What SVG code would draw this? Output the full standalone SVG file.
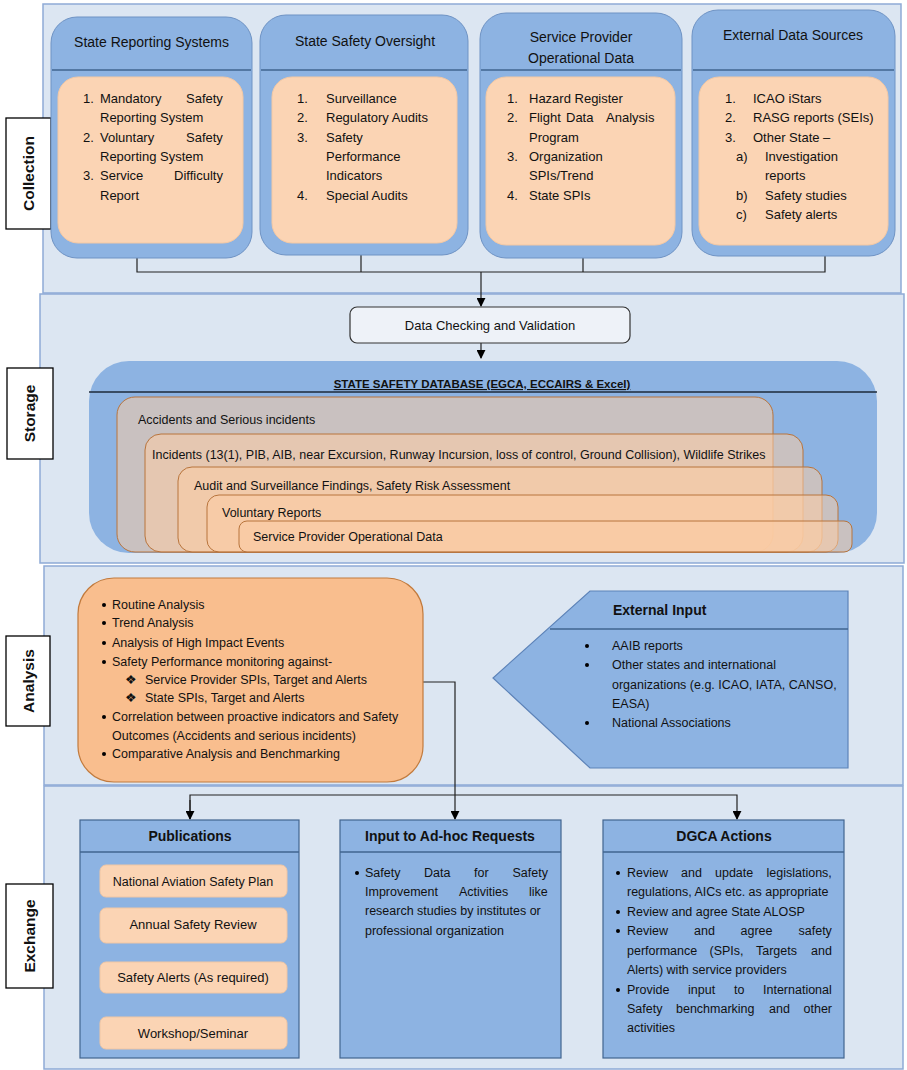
<svg xmlns="http://www.w3.org/2000/svg" width="907" height="1070" viewBox="0 0 907 1070">
<defs>
<marker id="ah" viewBox="0 0 10 10" refX="9" refY="5" markerWidth="9" markerHeight="9" markerUnits="userSpaceOnUse" orient="auto"><path d="M0,0 L10,5 L0,10 z" fill="#000"/></marker>
<style>
text{font-family:"Liberation Sans",Arial,sans-serif;fill:#111;}
.panel{fill:#dce6f2;stroke:#8eaad6;stroke-width:1.5;}
.lab{fill:#fff;stroke:#000;stroke-width:1.3;}
.labt{font-size:15.5px;font-weight:bold;text-anchor:middle;}
.bx{fill:#8db3e2;stroke:#6f93c4;stroke-width:1;}
.in{fill:#fbd4b4;stroke:#f3c8a4;stroke-width:1;}
.div{stroke:#41648f;stroke-width:1.3;fill:none;}
.tt{font-size:14px;text-anchor:middle;}
.tb{font-size:14px;font-weight:bold;text-anchor:middle;}
.t{font-size:13px;}
.s{font-size:12.5px;}
.c{fill:none;stroke:#222;stroke-width:1.2;}
.ly{fill:#fbcca4;fill-opacity:0.55;stroke:#b8743c;stroke-width:1;}
.pub{fill:#fbd4b4;stroke:#f0c6a4;stroke-width:1;}
.ctr{text-anchor:middle;}
</style>
</defs>

<!-- section panels -->
<g id="panels">
<rect class="panel" x="43" y="4" width="858" height="289"/>
<rect class="panel" x="40" y="294" width="864" height="269"/>
<rect class="panel" x="44" y="566" width="859" height="219"/>
<rect class="panel" x="44" y="786" width="859" height="283"/>
</g>

<!-- section labels -->
<g id="label-collection"><rect class="lab" x="6" y="118" width="45" height="111"/><text class="labt" transform="translate(34,173.5) rotate(-90)">Collection</text></g>
<g id="label-storage"><rect class="lab" x="7" y="368" width="46" height="91"/><text class="labt" transform="translate(35,413.5) rotate(-90)">Storage</text></g>
<g id="label-analysis"><rect class="lab" x="6" y="636" width="44" height="90"/><text class="labt" transform="translate(33.5,681) rotate(-90)">Analysis</text></g>
<g id="label-exchange"><rect class="lab" x="6" y="884" width="47" height="104"/><text class="labt" transform="translate(35,936) rotate(-90)">Exchange</text></g>

<!-- connectors -->
<g id="connectors">
<path class="c" d="M137,258 V272 H825 V256"/>
<path class="c" d="M361,255 V272"/>
<path class="c" d="M583,258 V272"/>
<path class="c" d="M481,272 V306" marker-end="url(#ah)"/>
<path class="c" d="M481,343 V358" marker-end="url(#ah)"/>
<path class="c" d="M423,682 H455 V819" marker-end="url(#ah)"/>
<path class="c" d="M190,819 V795 H737 V819" marker-end="url(#ah)"/>
<path class="c" d="M190,800 V819" marker-end="url(#ah)"/>
</g>

<!-- Collection boxes -->
<g id="state-reporting-systems">
<rect class="bx" x="51" y="17" width="201" height="241" rx="26"/>
<line class="div" x1="52" y1="70" x2="251" y2="70"/>
<text class="tt" x="151.5" y="47">State Reporting Systems</text>
<rect class="in" x="58" y="77" width="185" height="166" rx="20"/>
<text class="t"><tspan x="83" y="103">1.</tspan><tspan x="100">Mandatory</tspan><tspan x="186">Safety</tspan>
<tspan x="100" y="122">Reporting System</tspan>
<tspan x="83" y="142">2.</tspan><tspan x="100">Voluntary</tspan><tspan x="186">Safety</tspan>
<tspan x="100" y="161">Reporting System</tspan>
<tspan x="83" y="180">3.</tspan><tspan x="100">Service</tspan><tspan x="174">Difficulty</tspan>
<tspan x="100" y="200">Report</tspan></text>
</g>

<g id="state-safety-oversight">
<rect class="bx" x="260" y="15" width="208" height="240" rx="26"/>
<line class="div" x1="261" y1="70" x2="467" y2="70"/>
<text class="tt" x="365" y="46">State Safety Oversight</text>
<rect class="in" x="272" y="77" width="185" height="166" rx="20"/>
<text class="t"><tspan x="297" y="103">1.</tspan><tspan x="326">Surveillance</tspan>
<tspan x="297" y="122">2.</tspan><tspan x="326">Regulatory Audits</tspan>
<tspan x="297" y="142">3.</tspan><tspan x="326">Safety</tspan>
<tspan x="326" y="161">Performance</tspan>
<tspan x="326" y="180">Indicators</tspan>
<tspan x="297" y="200">4.</tspan><tspan x="326">Special Audits</tspan></text>
</g>

<g id="service-provider-operational-data">
<rect class="bx" x="480" y="13" width="202" height="245" rx="26"/>
<line class="div" x1="481" y1="70" x2="681" y2="70"/>
<text class="tt" x="581" y="42">Service Provider</text>
<text class="tt" x="581" y="63">Operational Data</text>
<rect class="in" x="486" y="77" width="189" height="168" rx="20"/>
<text class="t"><tspan x="507" y="103">1.</tspan><tspan x="529">Hazard Register</tspan>
<tspan x="507" y="122">2.</tspan><tspan x="529">Flight</tspan><tspan x="566">Data</tspan><tspan x="606">Analysis</tspan>
<tspan x="529" y="142">Program</tspan>
<tspan x="507" y="161">3.</tspan><tspan x="529">Organization</tspan>
<tspan x="529" y="180">SPIs/Trend</tspan>
<tspan x="507" y="200">4.</tspan><tspan x="529">State SPIs</tspan></text>
</g>

<g id="external-data-sources">
<rect class="bx" x="692" y="10" width="203" height="246" rx="26"/>
<line class="div" x1="693" y1="70" x2="894" y2="70"/>
<text class="tt" x="793" y="40">External Data Sources</text>
<rect class="in" x="699" y="77" width="189" height="168" rx="20"/>
<text class="t"><tspan x="725" y="103">1.</tspan><tspan x="753">ICAO iStars</tspan>
<tspan x="725" y="122">2.</tspan><tspan x="753">RASG reports (SEIs)</tspan>
<tspan x="725" y="142">3.</tspan><tspan x="753">Other State –</tspan>
<tspan x="736" y="161">a)</tspan><tspan x="765">Investigation</tspan>
<tspan x="765" y="180">reports</tspan>
<tspan x="736" y="200">b)</tspan><tspan x="765">Safety studies</tspan>
<tspan x="736" y="219">c)</tspan><tspan x="765">Safety alerts</tspan></text>
</g>

<!-- Storage -->
<g id="data-checking">
<rect x="350" y="307" width="280" height="36" rx="7" fill="#eef2f8" stroke="#333" stroke-width="1.2"/>
<text class="t ctr" x="490" y="330">Data Checking and Validation</text>
</g>

<g id="state-safety-database">
<rect x="89" y="361" width="788" height="192" rx="40" fill="#8db3e2"/>
<line x1="89" y1="392" x2="877" y2="392" stroke="#1d2a3a" stroke-width="1.5"/>
<text x="482" y="388" font-size="11.5" font-weight="bold" text-anchor="middle" text-decoration="underline">STATE SAFETY DATABASE (EGCA, ECCAIRS &amp; Excel)</text>
<rect class="ly" x="117" y="397" width="656" height="155" rx="18"/>
<rect class="ly" x="145" y="434" width="658" height="118" rx="16"/>
<rect class="ly" x="178" y="467" width="644" height="85" rx="14"/>
<rect class="ly" x="207" y="495" width="631" height="57" rx="12"/>
<rect class="ly" x="239" y="521" width="613" height="31" rx="8"/>
<text class="s" x="138" y="424">Accidents and Serious incidents</text>
<text class="s" x="152" y="459">Incidents (13(1), PIB, AIB, near Excursion, Runway Incursion, loss of control, Ground Collision), Wildlife Strikes</text>
<text class="s" x="194" y="490">Audit and Surveillance Findings, Safety Risk Assessment</text>
<text class="s" x="222" y="517">Voluntary Reports</text>
<text class="s" x="253" y="541">Service Provider Operational Data</text>
</g>

<!-- Analysis -->
<g id="analysis-activities">
<rect x="78" y="578" width="345" height="204" rx="36" fill="#f9be8e" stroke="#c27a3c" stroke-width="1.2"/>
<circle cx="104" cy="605" r="2"/><text class="s" x="112" y="609">Routine Analysis</text>
<circle cx="104" cy="623" r="2"/><text class="s" x="112" y="627">Trend Analysis</text>
<circle cx="104" cy="643" r="2"/><text class="s" x="112" y="647">Analysis of High Impact Events</text>
<circle cx="104" cy="662" r="2"/><text class="s" x="112" y="666">Safety Performance monitoring against-</text>
<text class="s" x="125" y="684">❖</text><text class="s" x="145" y="684">Service Provider SPIs, Target and Alerts</text>
<text class="s" x="125" y="702">❖</text><text class="s" x="145" y="702">State SPIs, Target and Alerts</text>
<circle cx="104" cy="717" r="2"/><text class="s" x="112" y="721">Correlation between proactive indicators and Safety</text>
<text class="s" x="112" y="740">Outcomes (Accidents and serious incidents)</text>
<circle cx="104" cy="754" r="2"/><text class="s" x="112" y="758">Comparative Analysis and Benchmarking</text>
</g>

<g id="external-input">
<path d="M590,591 H848 V768 H590 L493,678 Z" fill="#8db3e2" stroke="#5d83b8" stroke-width="1.2"/>
<line class="div" x1="550" y1="629" x2="848" y2="629"/>
<text x="613" y="615" font-size="14" font-weight="bold">External Input</text>
<circle cx="587" cy="646" r="2"/><text class="s" x="612" y="650">AAIB reports</text>
<circle cx="587" cy="665" r="2"/><text class="s" x="612" y="669">Other states and international</text>
<text class="s" x="612" y="689">organizations (e.g. ICAO, IATA, CANSO,</text>
<text class="s" x="612" y="708">EASA)</text>
<circle cx="587" cy="723" r="2"/><text class="s" x="612" y="727">National Associations</text>
</g>

<!-- Exchange -->
<g id="publications">
<rect x="80" y="820" width="219" height="238" fill="#8db3e2" stroke="#41648f" stroke-width="1.2"/>
<line class="div" x1="80" y1="852" x2="299" y2="852"/>
<text class="tb" x="190" y="841">Publications</text>
<rect class="pub" x="100" y="865" width="187" height="32" rx="6"/>
<text class="s ctr" x="193" y="886">National Aviation Safety Plan</text>
<rect class="pub" x="100" y="908" width="187" height="35" rx="6"/>
<text class="t ctr" x="193" y="929">Annual Safety Review</text>
<rect class="pub" x="100" y="962" width="187" height="31" rx="6"/>
<text class="t ctr" x="193" y="982">Safety Alerts (As required)</text>
<rect class="pub" x="100" y="1017" width="187" height="32" rx="6"/>
<text class="t ctr" x="193" y="1038">Workshop/Seminar</text>
</g>

<g id="ad-hoc-requests">
<rect x="340" y="820" width="221" height="238" fill="#8db3e2" stroke="#41648f" stroke-width="1.2"/>
<line class="div" x1="340" y1="852" x2="561" y2="852"/>
<text class="tb" x="450" y="841">Input to Ad-hoc Requests</text>
<circle cx="357" cy="873" r="2"/>
<text class="s"><tspan x="365" y="877">Safety</tspan><tspan x="424">Data</tspan><tspan x="474">for</tspan><tspan x="512.5">Safety</tspan>
<tspan x="365" y="896">Improvement</tspan><tspan x="459">Activities</tspan><tspan x="529">like</tspan>
<tspan x="365" y="915">research studies by institutes or</tspan>
<tspan x="365" y="935">professional organization</tspan></text>
</g>

<g id="dgca-actions">
<rect x="603" y="820" width="241" height="238" fill="#8db3e2" stroke="#41648f" stroke-width="1.2"/>
<line class="div" x1="603" y1="852" x2="844" y2="852"/>
<text class="tb" x="724" y="841">DGCA Actions</text>
<circle cx="618" cy="873" r="2"/>
<circle cx="618" cy="912" r="2"/>
<circle cx="618" cy="931" r="2"/>
<circle cx="618" cy="990" r="2"/>
<text class="s"><tspan x="627" y="877">Review</tspan><tspan x="681">and</tspan><tspan x="715">update</tspan><tspan x="766.5">legislations,</tspan>
<tspan x="627" y="896">regulations, AICs etc. as appropriate</tspan>
<tspan x="627" y="916">Review and agree State ALOSP</tspan>
<tspan x="627" y="935">Review</tspan><tspan x="694">and</tspan><tspan x="740.5">agree</tspan><tspan x="798.5">safety</tspan>
<tspan x="627" y="955">performance</tspan><tspan x="709.5">(SPIs,</tspan><tspan x="756">Targets</tspan><tspan x="811">and</tspan>
<tspan x="627" y="974">Alerts) with service providers</tspan>
<tspan x="627" y="994">Provide</tspan><tspan x="688">input</tspan><tspan x="734">to</tspan><tspan x="763">International</tspan>
<tspan x="627" y="1013">Safety</tspan><tspan x="676">benchmarking</tspan><tspan x="769">and</tspan><tspan x="803.5">other</tspan>
<tspan x="627" y="1032">activities</tspan></text>
</g>
</svg>
